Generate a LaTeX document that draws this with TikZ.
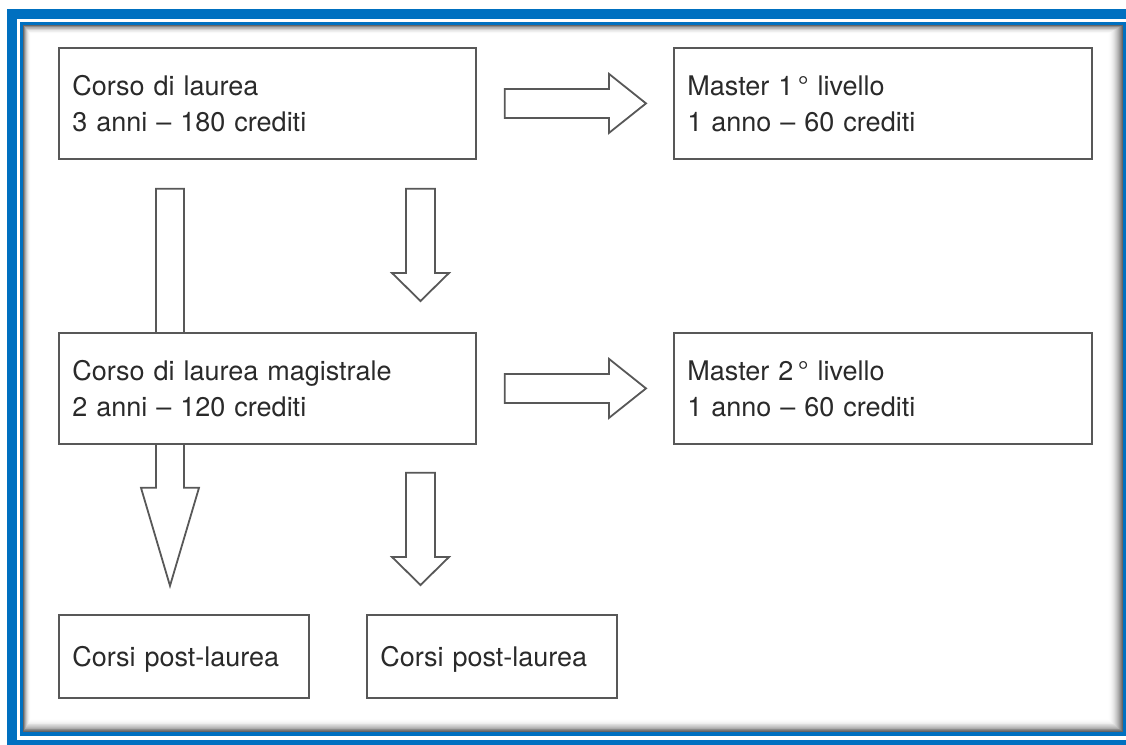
\documentclass[tikz,border=0pt]{standalone}
\usepackage{fontspec}
\setmainfont{TeX Gyre Heros}
\usetikzlibrary{calc}
\definecolor{frameblue}{RGB}{0,112,192}
\definecolor{linegray}{RGB}{88,88,88}
\definecolor{txtgray}{RGB}{42,42,42}
\newcommand\vblock[5]{%
  \draw[blockarrow] ([xshift=-#3]#1) -- ([xshift=#3]#1) -- ([xshift=#3,yshift=#5]#2) -- ([xshift=#4,yshift=#5]#2) -- (#2) -- ([xshift=-#4,yshift=#5]#2) -- ([xshift=-#3,yshift=#5]#2) -- cycle;}
\newcommand\hblock[5]{%
  \draw[blockarrow] ([yshift=#3]#1) -- ([xshift=-#5,yshift=#3]#2) -- ([xshift=-#5,yshift=#4]#2) -- (#2) -- ([xshift=-#5,yshift=-#4]#2) -- ([xshift=-#5,yshift=-#3]#2) -- ([yshift=-#3]#1) -- cycle;}
\begin{document}
\begin{tikzpicture}[x=1pt,y=-1pt,
  box/.style={draw=linegray, line width=1.8pt, fill=white, anchor=north west,
    minimum height=111pt, inner xsep=13.5pt, inner ysep=0pt, align=left,
    text=txtgray, font=\fontsize{27}{36}\selectfont},
  bigbox/.style={box, minimum width=417pt, text width=390pt},
  smallbox/.style={box, minimum width=250pt, text width=223pt, minimum height=83pt, text depth=0pt},
  blockarrow/.style={draw=linegray, line width=1.8pt, fill=white, line join=miter}]
\useasboundingbox (0,0) rectangle (1126,744);
\clip (0,0) rectangle (1126,744);
\fill[white] (0,0) rectangle (1126,744);
% frame
\fill[frameblue] (7,9) rectangle (1200,800);
\fill[white] (17,19) rectangle (1140,740);
\fill[frameblue] (20,22) rectangle (1126,736);
\foreach \i in {0,...,15}{
  \pgfmathsetmacro\p{60*(1-\i/15)^2}
  \fill[black!\p] (23+0.5*\i,25+0.6*\i) rectangle (1123-\i,732-0.85*\i);
}
% boxes
\node[bigbox] (b1) at (58,47) {Corso di laurea\\3 anni – 180 crediti};
\node[bigbox, minimum width=418pt, text width=391pt] (m1) at (673,47) {Master 1\,° livello\\1 anno – 60 crediti};
% long left arrow (behind b2)
\coordinate (d1s) at ($(b1.south west)+(112,29)$);
\coordinate (d1t) at ($(b1.south west)+(112,426)$);
\vblock{d1s}{d1t}{14pt}{29pt}{98pt}
\node[bigbox] (b2) at (58,332) {Corso di laurea magistrale\\2 anni – 120 crediti};
\node[bigbox, minimum width=418pt, text width=391pt] (m2) at (673,332) {Master 2\,° livello\\1 anno – 60 crediti};
\node[smallbox] (p1) at (58,614) {Corsi post-laurea};
\node[smallbox] (p2) at (366,614) {Corsi post-laurea};
% down arrows
\coordinate (d2s) at ($(b1.south west)+(362.5,29)$);
\coordinate (d2t) at ($(b2.north west)+(362.5,-31)$);
\vblock{d2s}{d2t}{14.5pt}{28.5pt}{28pt}
\coordinate (d3s) at ($(b2.south west)+(362.5,28)$);
\coordinate (d3t) at ($(p2.north west)+(54.5,-29)$);
\vblock{d3s}{d3t}{14.5pt}{28.5pt}{28pt}
% right arrows
\coordinate (r1s) at ($(b1.east)+(28,0)$);
\coordinate (r1t) at ($(m1.west)+(-27,0)$);
\hblock{r1s}{r1t}{14.5pt}{29.5pt}{37pt}
\coordinate (r2s) at ($(b2.east)+(28,0)$);
\coordinate (r2t) at ($(m2.west)+(-27,0)$);
\hblock{r2s}{r2t}{14.5pt}{29.5pt}{37pt}
\end{tikzpicture}
\end{document}
